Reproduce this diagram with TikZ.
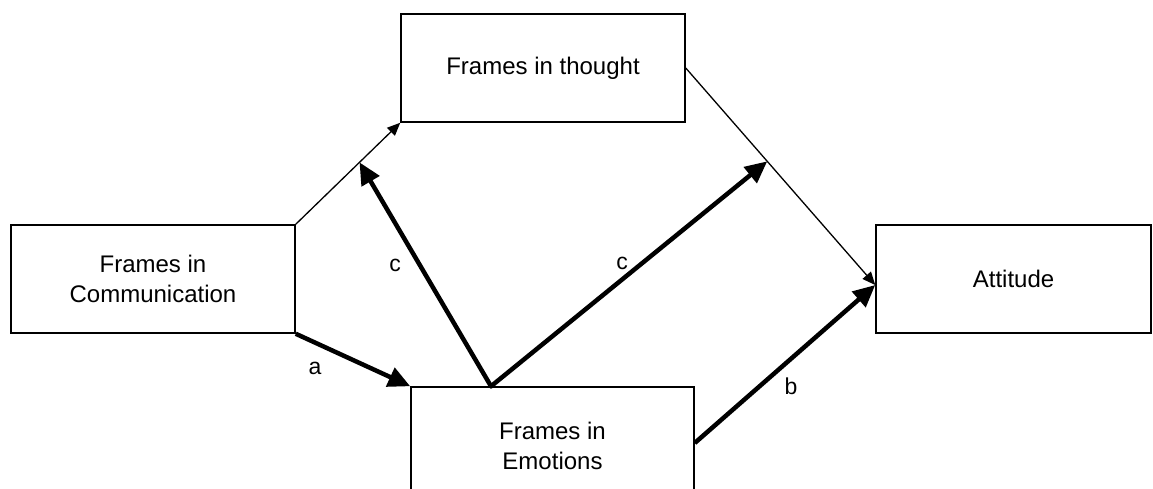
\documentclass[tikz,border=0pt]{standalone}
\usepackage{fontspec}
\setmainfont{Liberation Sans}
\usetikzlibrary{arrows.meta, calc}

\begin{document}
\begin{tikzpicture}[
    x=1pt, y=-1pt,
    box/.style={
        draw=black,
        line width=1.5pt,
        fill=white,
        align=center,
        inner sep=0pt,
        font=\fontsize{24}{29.5}\selectfont
    },
    thinarrow/.style={draw=black, line width=1.3pt, -{Triangle[length=13pt, width=11pt]}},
    thickarrow/.style={draw=black, line width=4.5pt, -{Triangle[length=22pt, width=20pt]}},
    lbl/.style={font=\fontsize{23}{26}\selectfont, inner sep=0pt}
]
\clip (0,0) rectangle (1153,488);

\node[box, minimum width=284pt, minimum height=108pt] (thought) at (543,68) {Frames in thought};
\node[box, minimum width=284pt, minimum height=108pt] (comm) at (153,279) {Frames in\\Communication};
\node[box, minimum width=275pt, minimum height=108pt] (att) at (1013.5,279) {Attitude};
\node[box, minimum width=283pt, minimum height=118pt] (emo) at (552.5,446) {Frames in\\Emotions};

% thin paths
\draw[thinarrow] (comm.north east) -- coordinate[pos=0.61] (mid1) (thought.south west);
\draw[thinarrow] (thought.east) -- coordinate[pos=0.43] (mid2) ([yshift=-6pt]att.west);

% thick paths
\coordinate (src) at ([xshift=-61.5pt]emo.north);
\draw[thickarrow] (comm.south east) -- (emo.north west);
\draw[thickarrow, line cap=round] (src) -- (mid1);
\draw[thickarrow, line cap=round] (src) -- (mid2);
\draw[thickarrow] ([yshift=3pt]emo.east) -- ([yshift=-6pt]att.west);

\node[lbl] (la) at (315,368) {a};
\node[lbl] (lc1) at (395,265) {c};
\node[lbl] (lc2) at (622,263) {c};
\node[lbl] (lb) at (791,386) {b};

\end{tikzpicture}
\end{document}
